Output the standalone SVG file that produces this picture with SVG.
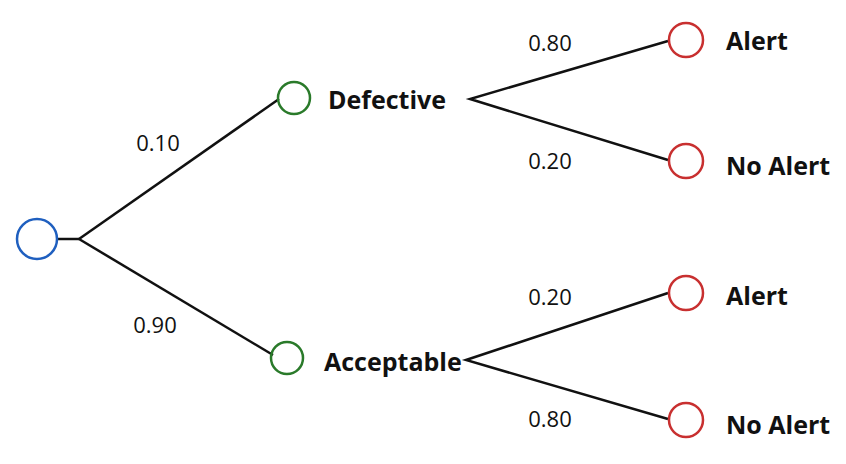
<svg xmlns="http://www.w3.org/2000/svg" width="846" height="464" viewBox="0 0 846 464">
<style>
.n{fill:none;stroke-width:2.5}
.r{stroke:#1f5fbf}.g{stroke:#2a7a2a}.d{stroke:#c83030}
.lbl{font-family:"Open Sans","Liberation Sans",sans-serif;font-weight:bold;font-size:25px;fill:#111}
.p{font-family:"Open Sans","Liberation Sans",sans-serif;font-size:22px;fill:#111;text-anchor:middle}
#edges line,#edges polyline{stroke:#111;stroke-width:2.5;fill:none}
</style>
<rect width="846" height="464" fill="#fff"/>
<g id="edges">
<line x1="57" y1="239" x2="79" y2="239"/>
<line x1="79" y1="239" x2="279" y2="99"/>
<line x1="79" y1="239" x2="273" y2="355"/>
<polyline points="668,41 470,99 668,160"/>
<polyline points="668,293 466,360 668,419"/>
<text class="p" x="158" y="151">0.10</text>
<text class="p" x="155" y="333">0.90</text>
<text class="p" x="550" y="51">0.80</text>
<text class="p" x="550" y="169">0.20</text>
<text class="p" x="550" y="305">0.20</text>
<text class="p" x="550" y="427">0.80</text>
</g>
<g id="root"><circle class="n r" cx="37" cy="239" r="20"/></g>
<g id="defective"><circle class="n g" cx="294" cy="98" r="16"/><text class="lbl" x="328" y="109">Defective</text></g>
<g id="acceptable"><circle class="n g" cx="287" cy="358" r="16"/><text class="lbl" x="324" y="371">Acceptable</text></g>
<g id="d-alert"><circle class="n d" cx="686" cy="40" r="17"/><text class="lbl" x="726" y="50">Alert</text></g>
<g id="d-noalert"><circle class="n d" cx="686" cy="161" r="17"/><text class="lbl" x="726" y="175">No Alert</text></g>
<g id="a-alert"><circle class="n d" cx="686" cy="293" r="17"/><text class="lbl" x="726" y="305">Alert</text></g>
<g id="a-noalert"><circle class="n d" cx="686" cy="420" r="17"/><text class="lbl" x="726" y="434">No Alert</text></g>
</svg>
